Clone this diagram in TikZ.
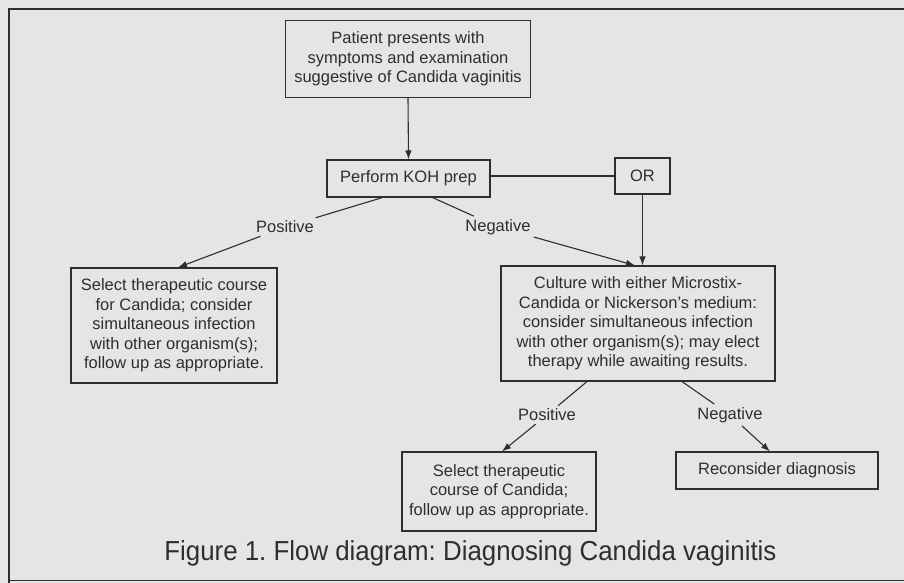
\documentclass[tikz,border=0pt]{standalone}
\usepackage{fontspec}
\setmainfont{Liberation Sans}
\frenchspacing
\usetikzlibrary{arrows.meta,calc}
\definecolor{bg}{HTML}{E5E5E5}
\definecolor{ink}{HTML}{2E2E2E}
\tikzset{
  box/.style={draw=ink, line width=1.1pt, text=ink, align=center, inner sep=0pt,
    font=\fontsize{16.5}{19.6}\selectfont},
  lbl/.style={text=ink, inner sep=3pt, font=\fontsize{16.5}{18}\selectfont},
  conn/.style={draw=ink, line width=1.1pt},
  arr/.style={conn, -{Latex[length=9pt,width=6.5pt]}},
}
\begin{document}
\begin{tikzpicture}[x=1pt,y=-1pt]
\useasboundingbox (0,0) rectangle (904,583);
\fill[bg] (0,0) rectangle (904,583);
\draw[ink, line width=1.6pt] (904,9) -- (9,9) -- (9,583);
\draw[ink, line width=1.6pt] (9,580.5) -- (904,580.5);

\node[box, minimum width=245pt, minimum height=77pt] (top) at (408,59)
  {Patient presents with\\symptoms and examination\\suggestive of Candida vaginitis};
\node[box, minimum width=163pt, minimum height=37pt] (koh) at (408.5,178.5) {Perform KOH prep};
\node[box, minimum width=55pt, minimum height=36pt] (or) at (642.5,176) {OR};
\node[box, minimum width=206pt, minimum height=115pt] (left) at (174,325.5)
  {Select therapeutic course\\for Candida; consider\\simultaneous infection\\with other organism(s);\\follow up as appropriate.};
\node[box, minimum width=274pt, minimum height=115pt] (cult) at (638,323.5)
  {Culture with either Microstix-\\Candida or Nickerson’s medium:\\consider simultaneous infection\\with other organism(s); may elect\\therapy while awaiting results.};
\node[box, minimum width=194pt, minimum height=79pt] (sel) at (499,491.5)
  {Select therapeutic\\course of Candida;\\follow up as appropriate.};
\node[box, minimum width=202pt, minimum height=37pt] (recon) at (777,470.5) {Reconsider diagnosis};

\node[lbl] (pos1) at (285,227) {Positive};
\node[lbl] (neg1) at (498,227) {Negative};
\node[lbl] (pos2) at (547,415) {Positive};
\node[lbl] (neg2) at (730,415) {Negative};

\node[text=ink, anchor=base, inner sep=0pt, font=\fontsize{27.5}{30}\selectfont] (cap) at (470.5,560)
  {\scalebox{0.94}[1]{Figure 1. Flow diagram: Diagnosing Candida vaginitis}};

\draw[arr] (top.south) -- (koh.north);
\draw[conn] (or.west) -- (or.west -| koh.east);
\draw[arr] (or.south) -- (or.south |- cult.north);
\draw[conn] ($(koh.south)+(-26,0)$) -- (pos1);
\draw[arr] (pos1) -- ($(left.north)+(4,0)$);
\draw[conn] ($(koh.south)+(24,0)$) -- (neg1);
\draw[arr] (neg1) -- ($(cult.north)+(-3,0)$);
\draw[conn] ($(cult.south)+(-51,0)$) -- (pos2);
\draw[arr] (pos2) -- ($(sel.north)+(3,0)$);
\draw[conn] ($(cult.south)+(44,0)$) -- (neg2);
\draw[arr] (neg2) -- ($(recon.north)+(-7,0)$);
\end{tikzpicture}
\end{document}
